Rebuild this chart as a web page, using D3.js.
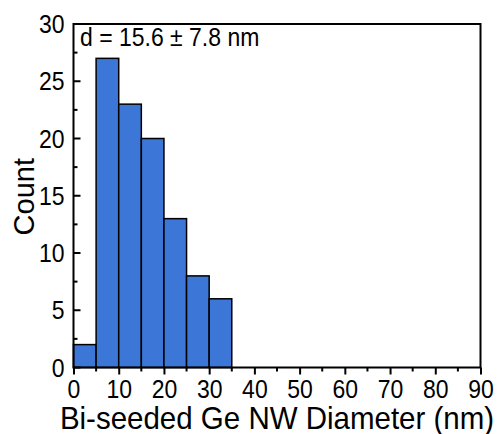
<!DOCTYPE html>
<html>
<head>
<meta charset="utf-8">
<script src="https://cdn.jsdelivr.net/npm/d3@7"></script>
<style>
body { margin: 0; background: #fff; }
svg { font-family: "Liberation Sans", Arial, sans-serif; }
</style>
</head>
<body>
<div id="chart"></div>
<script>
// histogram bins (nm) and counts
var binStart = [0, 5, 10, 15, 20, 25, 30]
var binWidth = 5
var counts = [2, 27, 23, 20, 13, 8, 6]
var xTicks = [0, 10, 20, 30, 40, 50, 60, 70, 80, 90]
var yTicks = [0, 5, 10, 15, 20, 25, 30]

var w = 500
var h = 434
var pLeft = 73.5, pRight = 480.5, pTop = 24, pBottom = 367.5
var sy = 1.1   // the original picture is a little stretched vertically

var svg = d3.select("#chart").append("svg").attr("width", w).attr("height", h)

var x = d3.scaleLinear().domain([0, 90]).range([pLeft, pRight])
var y = d3.scaleLinear().domain([0, 30]).range([pBottom, pTop])

// bars
svg.selectAll(".bar")
    .data(counts)
    .enter()
    .append("rect")
    .attr("class", "bar")
    .attr("x", function(d, i) { return x(binStart[i]) })
    .attr("y", function(d) { return y(d) })
    .attr("width", function(d, i) { return x(binStart[i] + binWidth) - x(binStart[i]) })
    .attr("height", function(d) { return y(0) - y(d) })
    .attr("fill", "#3c76d6")
    .attr("stroke", "#000")
    .attr("stroke-width", 1.5)

// frame
svg.append("rect")
    .attr("x", pLeft).attr("y", pTop)
    .attr("width", pRight - pLeft).attr("height", pBottom - pTop)
    .attr("fill", "none").attr("stroke", "#000").attr("stroke-width", 2)

// x axis: ticks outward
var xMinor = d3.range(5, 90, 10)
var gx = svg.append("g").attr("transform", "translate(0," + pBottom + ")")
gx.call(d3.axisBottom(x).tickValues(xTicks).tickSize(7).tickFormat(d3.format("d")))
gx.selectAll(".tick line").attr("stroke-width", 2)
gx.select(".domain").remove()
gx.selectAll("text")
    .attr("font-size", 23).attr("fill", "#000")
    .attr("font-family", "Liberation Sans, Arial, sans-serif")
    .attr("dy", 0).attr("y", 31 / sy)
    .attr("transform", "scale(1," + sy + ")")
gx.selectAll(".minor")
    .data(xMinor)
    .enter()
    .append("line")
    .attr("x1", function(d) { return x(d) })
    .attr("x2", function(d) { return x(d) })
    .attr("y1", 0).attr("y2", 4)
    .attr("stroke", "#000").attr("stroke-width", 2)

// y axis: ticks inward, labels left
var yMinor = d3.range(2.5, 30, 5)
var gy = svg.append("g").attr("transform", "translate(" + pLeft + ",0)")
gy.call(d3.axisLeft(y).tickValues(yTicks).tickSize(0).tickPadding(9).tickFormat(d3.format("d")))
gy.select(".domain").remove()
gy.selectAll("text")
    .attr("font-size", 23).attr("fill", "#000")
    .attr("font-family", "Liberation Sans, Arial, sans-serif")
    .attr("dy", 0).attr("y", 8.5 / sy)
    .attr("transform", "scale(1," + sy + ")")
gy.selectAll(".major")
    .data(yTicks)
    .enter()
    .append("line")
    .attr("x1", 0).attr("x2", 7)
    .attr("y1", function(d) { return y(d) })
    .attr("y2", function(d) { return y(d) })
    .attr("stroke", "#000").attr("stroke-width", 2)
gy.selectAll(".minor")
    .data(yMinor)
    .enter()
    .append("line")
    .attr("x1", 0).attr("x2", 4)
    .attr("y1", function(d) { return y(d) })
    .attr("y2", function(d) { return y(d) })
    .attr("stroke", "#000").attr("stroke-width", 2)

// titles
svg.append("text")
    .attr("transform", "translate(277,428.5) scale(1,1.05)")
    .attr("text-anchor", "middle")
    .attr("font-size", 29.5)
    .text("Bi-seeded Ge NW Diameter (nm)")

svg.append("text")
    .attr("transform", "translate(34," + ((pTop + pBottom) / 2 + 1) + ") rotate(-90)")
    .attr("text-anchor", "middle")
    .attr("font-size", 29)
    .text("Count")

svg.append("text")
    .attr("transform", "translate(80,45.5) scale(1," + sy + ")")
    .attr("font-size", 23)
    .text("d = 15.6 ± 7.8 nm")
</script>
</body>
</html>
